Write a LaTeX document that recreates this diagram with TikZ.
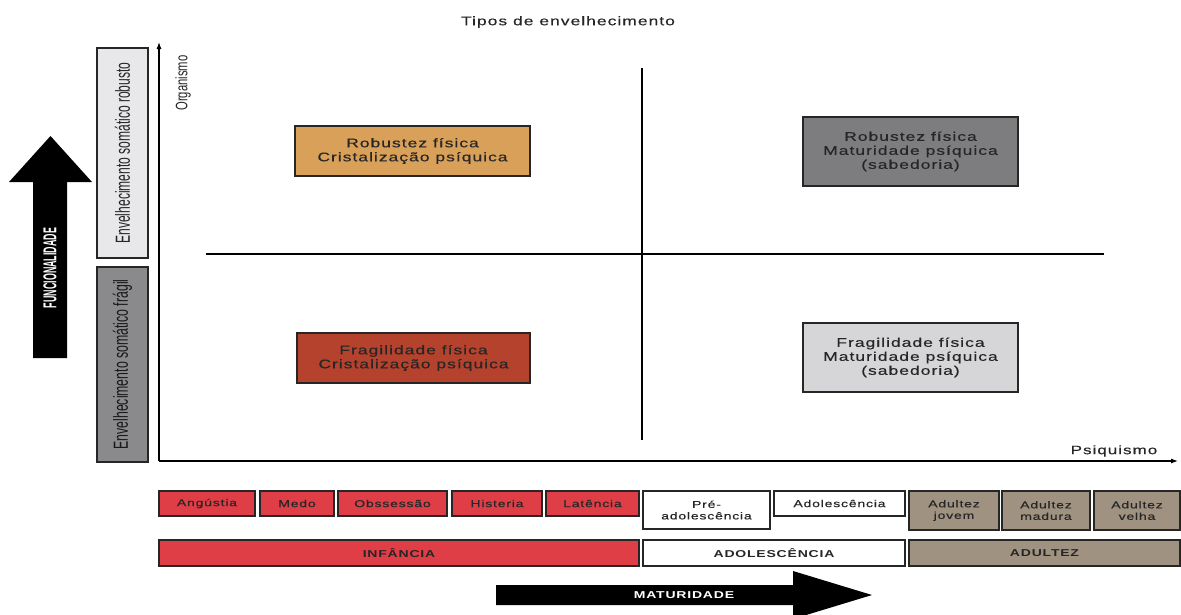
\documentclass[tikz,border=0pt]{standalone}
\usepackage{fontspec}
\setmainfont{Liberation Sans}
\newfontfamily\widefont[FakeStretch=1.4,LetterSpace=8,FakeBold=0.35]{Liberation Sans}
\newfontfamily\widebold[FakeStretch=1.4,LetterSpace=8]{Liberation Sans Bold}
\usetikzlibrary{arrows.meta}
\definecolor{qorange}{RGB}{217,160,89}
\definecolor{qbrick}{RGB}{181,66,45}
\definecolor{qdark}{RGB}{125,125,127}
\definecolor{qlight}{RGB}{214,214,216}
\definecolor{lightbox}{RGB}{232,232,234}
\definecolor{darkbox}{RGB}{138,138,140}
\definecolor{redbox}{RGB}{224,62,70}
\definecolor{brownbox}{RGB}{160,146,128}
\begin{document}
\begin{tikzpicture}[x=1pt,y=-1pt,
  box/.style={draw=black!85, line width=1.2pt, inner sep=0pt, align=center, text=black!85},
  quad/.style={box, font=\widefont\fontsize{12.5}{14}\selectfont},
  small/.style={box, font=\widefont\fontsize{10}{11.5}\selectfont},
  bar/.style={box, minimum height=26pt, font=\widebold\fontsize{10}{11.5}\selectfont},
  axis/.style={line width=1.1pt, -{Latex[length=7pt,width=5pt]}},
  bigarrow/.style={fill=black, draw=none}]
\useasboundingbox (0,0) rectangle (1181,614);
% title
\node[font=\widefont\fontsize{12.5}{14}\selectfont, text=black!85] (title) at (568,22) {Tipos de envelhecimento};
% axes
\coordinate (O) at (159,461);
\coordinate (ytop) at (159,42);
\coordinate (xend) at (1178,461);
\draw[axis] (O) -- (ytop);
\draw[axis] (O) -- (xend);
\node[rotate=90, inner sep=0pt, text=black!85] (org) at (183,83) {\resizebox{55pt}{12pt}{Organismo}};
\node[font=\widefont\fontsize{12.2}{13.5}\selectfont, text=black!85] (psi) at (1114,451) {Psiquismo};
% quadrant lines
\coordinate (vt) at (642,68);
\coordinate (vb) at (642,440);
\coordinate (hl) at (206,254);
\coordinate (hr) at (1104,254);
\draw[line width=1.1pt] (vt) -- (vb);
\draw[line width=1.1pt] (hl) -- (hr);
% quadrant boxes
\node[quad, fill=qorange, minimum width=235pt, minimum height=50pt] (q1) at (412.5,151) {Robustez física\\Cristalização psíquica};
\node[quad, fill=qbrick, minimum width=233pt, minimum height=50pt] (q3) at (413.5,358) {Fragilidade física\\Cristalização psíquica};
\node[quad, fill=qdark, minimum width=215pt, minimum height=69pt] (q2) at (910.5,151.5) {Robustez física\\Maturidade psíquica\\(sabedoria)};
\node[quad, fill=qlight, minimum width=215pt, minimum height=69pt] (q4) at (910.5,357.5) {Fragilidade física\\Maturidade psíquica\\(sabedoria)};
% left side boxes
\node[box, fill=lightbox, minimum width=51pt, minimum height=210pt] (robL) at (122.5,153) {};
\node[rotate=90, inner sep=0pt, text=black!85] (robT) at (robL.center) {\resizebox{181pt}{15pt}{Envelhecimento somático robusto}};
\node[box, fill=darkbox, minimum width=51pt, minimum height=195pt] (fraL) at (122.5,364.5) {};
\node[rotate=90, inner sep=0pt, text=black!90] (fraT) at (fraL.center) {\resizebox{170pt}{15pt}{Envelhecimento somático frágil}};
% funcionalidade arrow
\fill[bigarrow] (33,358) -- (33,182) -- (9,182) -- (50.5,136) -- (92,182) -- (67,182) -- (67,358) -- cycle;
\node[rotate=90, inner sep=0pt, text=white] (func) at (50,268) {\resizebox{80pt}{13pt}{\bfseries FUNCIONALIDADE}};
% bottom row 1
\node[small, fill=redbox, minimum width=96pt, minimum height=25pt] (ang) at (207,503.5) {Angústia};
\node[small, fill=redbox, minimum width=74pt, minimum height=25pt] (med) at (297,503.5) {Medo};
\node[small, fill=redbox, minimum width=109pt, minimum height=25pt] (obs) at (392.5,503.5) {Obssessão};
\node[small, fill=redbox, minimum width=90pt, minimum height=25pt] (his) at (497,503.5) {Histeria};
\node[small, fill=redbox, minimum width=93pt, minimum height=25pt] (lat) at (592.5,503.5) {Latência};
\node[small, fill=white, minimum width=127pt, minimum height=38pt] (pre) at (706.5,510) {Pré-\\adolescência};
\node[small, fill=white, minimum width=131pt, minimum height=25pt] (ado) at (839.5,503.5) {Adolescência};
\node[small, fill=brownbox, minimum width=90pt, minimum height=39pt] (adj) at (954,510.5) {Adultez\\jovem};
\node[small, fill=brownbox, minimum width=88pt, minimum height=39pt] (adm) at (1046,510.5) {Adultez\\madura};
\node[small, fill=brownbox, minimum width=86pt, minimum height=39pt] (adv) at (1137,510.5) {Adultez\\velha};
% bottom row 2
\node[bar, fill=redbox, minimum width=480pt] (inf) at (399,553) {INFÂNCIA};
\node[bar, fill=white, minimum width=262pt] (adol) at (774,553) {ADOLESCÊNCIA};
\node[bar, fill=brownbox, minimum width=271pt] (adul) at (1044.5,553) {ADULTEZ};
% maturidade arrow
\fill[bigarrow] (496,585) -- (793,585) -- (793,571) -- (872,595) -- (793,619) -- (793,605) -- (496,605) -- cycle;
\node[text=white, font=\widebold\fontsize{10}{11.5}\selectfont] (mat) at (684,595) {MATURIDADE};
\end{tikzpicture}
\end{document}
